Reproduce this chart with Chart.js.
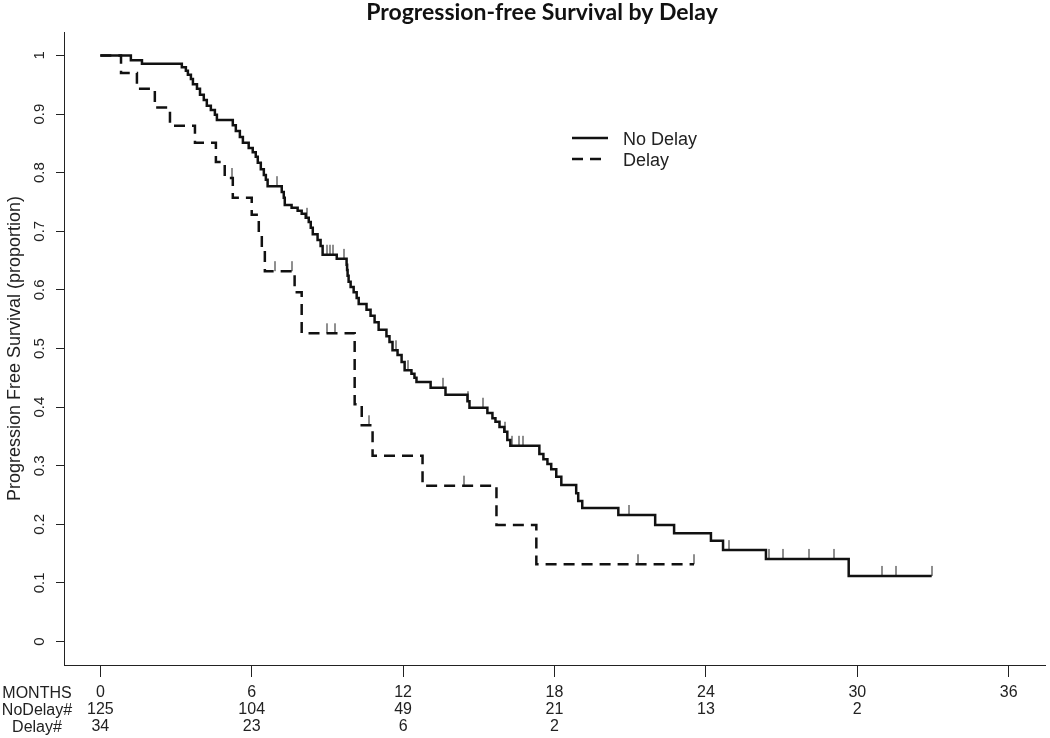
<!DOCTYPE html>
<html>
<head>
<meta charset="utf-8">
<script src="https://cdn.jsdelivr.net/npm/chart.js@4.4.1/dist/chart.umd.min.js"></script>
<style>
  html, body { margin: 0; padding: 0; background: #ffffff; }
  canvas { display: block; }
</style>
</head>
<body>
<canvas id="km" width="1050" height="738"></canvas>
<script>
// ---------------- data ----------------
const chartTitle = 'Progression-free Survival by Delay';
const yAxisTitle = 'Progression Free Survival (proportion)';
const seriesNames = ['No Delay', 'Delay'];
const rowLabels = ['MONTHS', 'NoDelay#', 'Delay#'];
const monthTicks = [0, 6, 12, 18, 24, 30, 36];
const noDelayAtRisk = ['125', '104', '49', '21', '13', '2', ''];
const delayAtRisk = ['34', '23', '6', '2', '', '', ''];
const yTicks = [0, 0.1, 0.2, 0.3, 0.4, 0.5, 0.6, 0.7, 0.8, 0.9, 1];

// No Delay: event times (months) and survival after each event
const noDelayTimes = [0, 1.21, 1.65, 3.23, 3.39, 3.47, 3.59, 3.67, 3.83, 3.95, 4.10, 4.22, 4.38, 4.54, 4.62,
  5.25, 5.37, 5.53, 5.65, 5.88, 6.04, 6.16, 6.24, 6.36, 6.48, 6.56, 6.63, 7.19, 7.27, 7.31, 7.58, 7.82, 7.98,
  8.14, 8.26, 8.34, 8.42, 8.61, 8.73, 8.81, 9.37, 9.76, 9.78, 9.80, 9.84, 9.92, 10.04, 10.16, 10.24, 10.55,
  10.71, 10.87, 11.03, 11.34, 11.46, 11.58, 11.78, 11.94, 12.06, 12.33, 12.45, 12.53, 13.09, 13.68, 14.55,
  14.63, 15.34, 15.54, 15.66, 15.82, 16.01, 16.13, 16.25, 17.40, 17.56, 17.72, 17.87, 18.07, 18.27, 18.86,
  18.94, 19.10, 20.53, 21.99, 22.74, 24.20, 24.68, 26.38, 29.66];
const noDelaySurv = [1, 0.992, 0.986, 0.980, 0.974, 0.967, 0.960, 0.951, 0.943, 0.933, 0.924, 0.914, 0.907, 0.899, 0.890,
  0.881, 0.871, 0.861, 0.851, 0.842, 0.835, 0.827, 0.817, 0.806, 0.796, 0.788, 0.777, 0.767, 0.757, 0.745, 0.740, 0.735, 0.730,
  0.723, 0.716, 0.706, 0.695, 0.685, 0.675, 0.660, 0.653, 0.643, 0.634, 0.624, 0.614, 0.605, 0.596, 0.586, 0.576, 0.566,
  0.556, 0.545, 0.532, 0.521, 0.511, 0.497, 0.489, 0.477, 0.463, 0.457, 0.450, 0.443, 0.433, 0.421, 0.410,
  0.399, 0.390, 0.381, 0.375, 0.366, 0.358, 0.344, 0.334, 0.320, 0.311, 0.303, 0.294, 0.281, 0.267, 0.253,
  0.240, 0.228, 0.216, 0.199, 0.185, 0.172, 0.156, 0.141, 0.112];
const noDelayEnd = 32.95;
const noDelayCensor = [6.99, 8.18, 8.97, 9.09, 9.21, 9.65, 11.70, 12.21, 13.60, 14.58, 15.18, 16.05, 16.33, 16.61,
  16.77, 20.96, 24.92, 26.50, 27.05, 28.08, 29.07, 30.98, 31.54, 32.95];

// Delay
const delayTimes = [0, 0.82, 1.45, 2.16, 2.76, 3.75, 4.58, 4.93, 5.25, 6.00, 6.28, 6.40, 6.52, 7.70, 7.98,
  10.08, 10.36, 10.79, 12.77, 15.70, 17.28];
const delaySurv = [1, 0.970, 0.943, 0.911, 0.880, 0.851, 0.818, 0.791, 0.757, 0.728, 0.698, 0.668, 0.632, 0.596, 0.526,
  0.405, 0.369, 0.317, 0.266, 0.199, 0.132];
const delayEnd = 23.53;
const delayCensor = [5.21, 6.91, 7.59, 8.97, 9.29, 10.63, 14.43, 21.32, 23.53];

// ---------------- helpers ----------------
function stepCurve(times, surv, end) {
  const pts = times.map((t, i) => ({ x: t, y: surv[i] }));
  pts.push({ x: end, y: surv[surv.length - 1] });
  return pts;
}
function survAt(times, surv, t) {
  let s = surv[0];
  for (let i = 0; i < times.length; i++) if (times[i] <= t) s = surv[i];
  return s;
}
function censorPoints(cens, times, surv) {
  return cens.map(t => ({ x: t, y: survAt(times, surv, t) }));
}
function censorMark() {
  const c = document.createElement('canvas');
  c.width = 2; c.height = 22;
  const g = c.getContext('2d');
  g.fillStyle = '#8f8f8f';
  g.fillRect(0, 1, 2, 10);
  return c;
}
const markImg = censorMark();

const FONT = '"Liberation Sans", Arial, sans-serif';
Chart.defaults.font.family = FONT;
Chart.defaults.color = '#222';

// ---------------- plugins (title, legend, row labels) ----------------
const decor = {
  id: 'decor',
  afterDraw(chart) {
    const ctx = chart.ctx;
    ctx.save();
    // title
    ctx.fillStyle = '#111';
    ctx.font = 'bold 23px Lato, "Open Sans", sans-serif';
    ctx.textAlign = 'center';
    ctx.textBaseline = 'middle';
    ctx.fillText(chartTitle, 542, 13);
    // legend
    const lx = 572, ly = 138;
    chart.data.datasets.slice(0, 2).forEach((ds, i) => {
      const y = ly + i * 21;
      ctx.strokeStyle = ds.borderColor;
      ctx.lineWidth = ds.borderWidth;
      ctx.setLineDash(ds.borderDash || []);
      ctx.beginPath();
      ctx.moveTo(lx, y);
      ctx.lineTo(i === 0 ? lx + 36 : lx + 33, y);
      ctx.stroke();
      ctx.setLineDash([]);
      ctx.fillStyle = '#222';
      ctx.font = '18px ' + FONT;
      ctx.textAlign = 'left';
      ctx.textBaseline = 'middle';
      ctx.fillText(ds.label, 623, y + 2);
    });
    // risk-table row labels
    const xs = chart.scales.x;
    ctx.font = '16px ' + FONT;
    ctx.fillStyle = '#222';
    ctx.textAlign = 'center';
    ctx.textBaseline = 'middle';
    rowLabels.forEach((r, i) => ctx.fillText(r, 37, xs.top + 28.5 + i * 17));
    ctx.restore();
  }
};

// ---------------- chart ----------------
new Chart(document.getElementById('km'), {
  type: 'line',
  data: {
    datasets: [
      { label: seriesNames[0], data: stepCurve(noDelayTimes, noDelaySurv, noDelayEnd), stepped: true,
        borderColor: '#111', borderWidth: 2.5, pointRadius: 0, fill: false },
      { label: seriesNames[1], data: stepCurve(delayTimes, delaySurv, delayEnd), stepped: true,
        borderColor: '#111', borderWidth: 2.5, borderDash: [11, 7], pointRadius: 0, fill: false },
      { label: 'censor-nd', data: censorPoints(noDelayCensor, noDelayTimes, noDelaySurv), showLine: false,
        pointStyle: markImg, pointRadius: 5, borderWidth: 0 },
      { label: 'censor-d', data: censorPoints(delayCensor, delayTimes, delaySurv), showLine: false,
        pointStyle: markImg, pointRadius: 5, borderWidth: 0 }
    ]
  },
  options: {
    responsive: false,
    animation: false,
    devicePixelRatio: 1,
    layout: { padding: { left: 0, right: 3.5, top: 32, bottom: 0 } },
    plugins: { legend: { display: false }, tooltip: { enabled: false }, title: { display: false } },
    scales: {
      x: {
        type: 'linear', min: -1.44, max: 37.44,
        afterBuildTicks: s => { s.ticks = monthTicks.map(v => ({ value: v })); },
        afterFit: s => { s.height = 73; },
        grid: { drawOnChartArea: false, drawTicks: true, tickLength: 12, color: '#222', lineWidth: 1 },
        border: { display: true, color: '#222', width: 1 },
        ticks: {
          autoSkip: false, maxRotation: 0, minRotation: 0, padding: 7,
          font: { size: 16, lineHeight: '17px' }, color: '#222',
          callback: (v) => { const i = monthTicks.indexOf(v); return [String(v), noDelayAtRisk[i], delayAtRisk[i]]; }
        }
      },
      y: {
        type: 'linear', min: -0.04, max: 1.04,
        afterBuildTicks: s => { s.ticks = yTicks.map(v => ({ value: v })); },
        afterFit: s => { s.width = 64; },
        grid: { drawOnChartArea: false, drawTicks: true, tickLength: 8, color: '#222', lineWidth: 1 },
        border: { display: true, color: '#222', width: 1 },
        title: { display: true, text: yAxisTitle, font: { size: 18 }, color: '#222', padding: { top: 4, bottom: 0 } },
        ticks: {
          minRotation: 90, maxRotation: 90, crossAlign: 'center', padding: 6,
          font: { size: 15 }, color: '#222',
          callback: v => String(Math.round(v * 10) / 10)
        }
      }
    }
  },
  plugins: [decor]
});
</script>
</body>
</html>
